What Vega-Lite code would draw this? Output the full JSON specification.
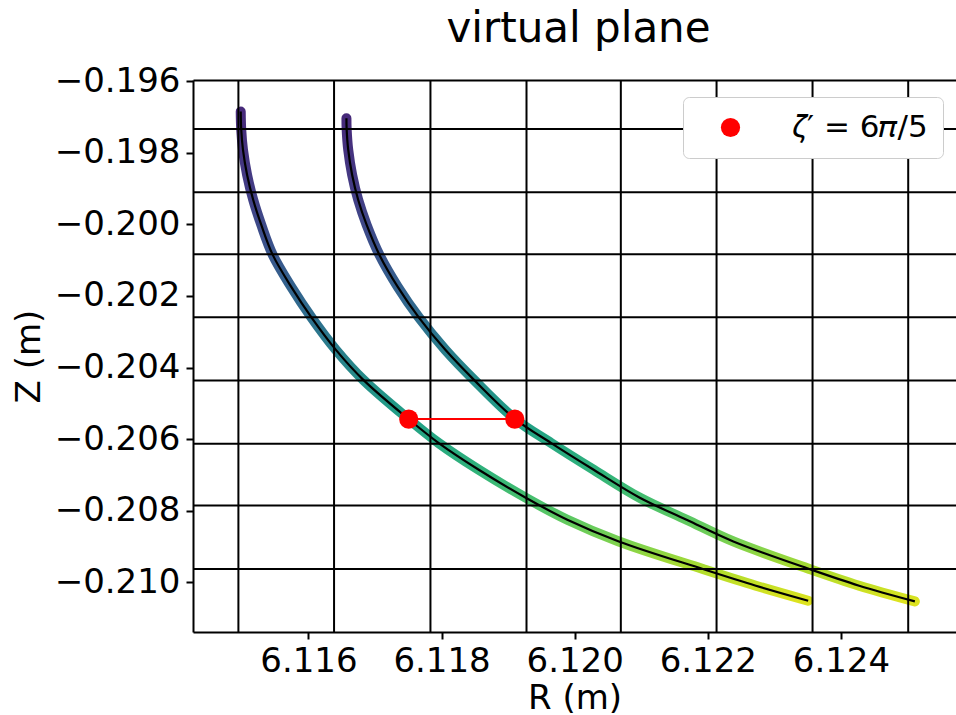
{
  "$schema": "https://vega.github.io/schema/vega-lite/v6.json",
  "width": 763,
  "height": 552,
  "autosize": {"type": "none"},
  "padding": {"left": 193, "top": 80, "right": 0, "bottom": 83},
  "title": {"text": "virtual plane", "fontSize": 42, "font": "DejaVu Sans", "fontWeight": "normal", "color": "black", "offset": 13, "dx": 4},
  "config": {
    "view": {"stroke": null},
    "font": "DejaVu Sans",
    "axis": {
      "labelFont": "DejaVu Sans", "titleFont": "DejaVu Sans",
      "labelFontSize": 34, "titleFontSize": 34, "titleFontWeight": "normal",
      "labelColor": "black", "titleColor": "black",
      "tickColor": "black", "domainColor": "black",
      "tickSize": 7, "tickWidth": 2, "domainWidth": 2,
      "grid": false, "labelOverlap": false, "labelFlush": false
    }
  },
  "datasets": {
    "curves": [
      {"curve": "a", "i": 1, "R": 6.114983, "Z": -0.196851},
      {"curve": "a", "i": 2, "R": 6.114990, "Z": -0.197339},
      {"curve": "a", "i": 3, "R": 6.115017, "Z": -0.197925},
      {"curve": "a", "i": 4, "R": 6.115079, "Z": -0.198623},
      {"curve": "a", "i": 5, "R": 6.115171, "Z": -0.199321},
      {"curve": "a", "i": 6, "R": 6.115292, "Z": -0.200018},
      {"curve": "a", "i": 7, "R": 6.115464, "Z": -0.200855},
      {"curve": "a", "i": 8, "R": 6.115742, "Z": -0.201748},
      {"curve": "a", "i": 9, "R": 6.116050, "Z": -0.202613},
      {"curve": "a", "i": 10, "R": 6.116413, "Z": -0.203506},
      {"curve": "a", "i": 11, "R": 6.116825, "Z": -0.204344},
      {"curve": "a", "i": 12, "R": 6.117505, "Z": -0.205440},
      {"curve": "a", "i": 13, "R": 6.117958, "Z": -0.206110},
      {"curve": "a", "i": 14, "R": 6.118559, "Z": -0.206855},
      {"curve": "a", "i": 15, "R": 6.119265, "Z": -0.207636},
      {"curve": "a", "i": 16, "R": 6.119889, "Z": -0.208250},
      {"curve": "a", "i": 17, "R": 6.120663, "Z": -0.208856},
      {"curve": "a", "i": 18, "R": 6.121925, "Z": -0.209626},
      {"curve": "a", "i": 19, "R": 6.122721, "Z": -0.210092},
      {"curve": "a", "i": 20, "R": 6.123507, "Z": -0.210511},
      {"curve": "b", "i": 1, "R": 6.116571, "Z": -0.197041},
      {"curve": "b", "i": 2, "R": 6.116574, "Z": -0.197339},
      {"curve": "b", "i": 3, "R": 6.116598, "Z": -0.197925},
      {"curve": "b", "i": 4, "R": 6.116657, "Z": -0.198623},
      {"curve": "b", "i": 5, "R": 6.116748, "Z": -0.199321},
      {"curve": "b", "i": 6, "R": 6.116875, "Z": -0.200018},
      {"curve": "b", "i": 7, "R": 6.117067, "Z": -0.200855},
      {"curve": "b", "i": 8, "R": 6.117342, "Z": -0.201748},
      {"curve": "b", "i": 9, "R": 6.117663, "Z": -0.202613},
      {"curve": "b", "i": 10, "R": 6.118057, "Z": -0.203506},
      {"curve": "b", "i": 11, "R": 6.118487, "Z": -0.204344},
      {"curve": "b", "i": 12, "R": 6.119107, "Z": -0.205440},
      {"curve": "b", "i": 13, "R": 6.119648, "Z": -0.206110},
      {"curve": "b", "i": 14, "R": 6.120285, "Z": -0.206855},
      {"curve": "b", "i": 15, "R": 6.120978, "Z": -0.207636},
      {"curve": "b", "i": 16, "R": 6.121680, "Z": -0.208250},
      {"curve": "b", "i": 17, "R": 6.122383, "Z": -0.208856},
      {"curve": "b", "i": 18, "R": 6.123525, "Z": -0.209626},
      {"curve": "b", "i": 19, "R": 6.124273, "Z": -0.210092},
      {"curve": "b", "i": 20, "R": 6.125110, "Z": -0.210530}
    ],
    "vgrid": [
      {"R": 6.114948}, {"R": 6.116385}, {"R": 6.117833}, {"R": 6.119276},
      {"R": 6.120693}, {"R": 6.122131}, {"R": 6.123573}, {"R": 6.125010}
    ],
    "hgrid": [
      {"Z": -0.197339}, {"Z": -0.199106}, {"Z": -0.200836}, {"Z": -0.202594},
      {"Z": -0.204363}, {"Z": -0.206129}, {"Z": -0.207851}, {"Z": -0.209626}
    ],
    "red": [
      {"R": 6.117507, "Z": -0.205440, "name": "𝜁′ = 6𝜋/5"},
      {"R": 6.119100, "Z": -0.205440, "name": "𝜁′ = 6𝜋/5"}
    ]
  },
  "layer": [
    {
      "data": {"name": "curves"},
      "mark": {"type": "line", "strokeWidth": 10, "strokeCap": "round", "strokeJoin": "round", "interpolate": "catmull-rom",
        "stroke": {"gradient": "linear", "x1": 0, "y1": 0, "x2": 0, "y2": 1, "stops": [
          {"offset": 0, "color": "#472a7a"},
          {"offset": 0.164, "color": "#433e85"},
          {"offset": 0.293, "color": "#39568c"},
          {"offset": 0.422, "color": "#2e6f8e"},
          {"offset": 0.628, "color": "#21a086"},
          {"offset": 0.732, "color": "#30b27b"},
          {"offset": 0.806, "color": "#4ec36b"},
          {"offset": 0.878, "color": "#7ad151"},
          {"offset": 0.937, "color": "#b0dd2e"},
          {"offset": 1, "color": "#dde31f"}
        ]}},
      "encoding": {
        "x": {"field": "R", "type": "quantitative", "scale": {"domain": [6.114266, 6.125728], "nice": false, "zero": false}, "axis": null},
        "y": {"field": "Z", "type": "quantitative", "scale": {"domain": [-0.211384, -0.195972], "nice": false, "zero": false}, "axis": null},
        "detail": {"field": "curve"},
        "order": {"field": "i", "type": "quantitative"}
      }
    },
    {
      "data": {"name": "vgrid"},
      "mark": {"type": "rule", "color": "black", "strokeWidth": 2},
      "encoding": {
        "x": {"field": "R", "type": "quantitative", "scale": {"domain": [6.114266, 6.125728], "nice": false, "zero": false},
          "axis": {"orient": "bottom", "values": [6.116, 6.118, 6.120, 6.122, 6.124], "format": ".3f", "title": "R (m)", "labelPadding": 5, "titlePadding": 3}}
      }
    },
    {
      "data": {"name": "hgrid"},
      "mark": {"type": "rule", "color": "black", "strokeWidth": 2},
      "encoding": {
        "y": {"field": "Z", "type": "quantitative", "scale": {"domain": [-0.211384, -0.195972], "nice": false, "zero": false},
          "axis": {"orient": "left", "values": [-0.196, -0.198, -0.2, -0.202, -0.204, -0.206, -0.208, -0.21], "format": ".3f", "title": "Z (m)", "labelPadding": 6, "titlePadding": 8}}
      }
    },
    {
      "data": {"name": "curves"},
      "mark": {"type": "line", "strokeWidth": 2.2, "color": "black", "interpolate": "catmull-rom"},
      "encoding": {
        "x": {"field": "R", "type": "quantitative", "scale": {"domain": [6.114266, 6.125728], "nice": false, "zero": false},
          "axis": {"orient": "top", "labels": false, "ticks": false, "title": null, "domain": true}},
        "y": {"field": "Z", "type": "quantitative", "axis": null},
        "detail": {"field": "curve"},
        "order": {"field": "i", "type": "quantitative"}
      }
    },
    {
      "data": {"name": "red"},
      "mark": {"type": "line", "color": "#ff0000", "strokeWidth": 2},
      "encoding": {
        "x": {"field": "R", "type": "quantitative", "axis": null},
        "y": {"field": "Z", "type": "quantitative", "axis": null}
      }
    },
    {
      "data": {"name": "red"},
      "mark": {"type": "point", "filled": true, "shape": "circle", "size": 370, "opacity": 1},
      "encoding": {
        "x": {"field": "R", "type": "quantitative", "axis": null},
        "y": {"field": "Z", "type": "quantitative", "axis": null},
        "color": {"field": "name", "type": "nominal", "scale": {"range": ["#ff0000"]},
          "legend": {"orient": "none", "legendX": 490, "legendY": 17, "title": null,
            "fillColor": "white", "strokeColor": "#cccccc", "cornerRadius": 6, "padding": 15,
            "symbolSize": 370, "symbolType": "circle", "symbolOpacity": 1, "symbolOffset": 17,
            "labelFont": "DejaVu Sans", "labelFontSize": 31, "labelColor": "black", "labelOffset": 47, "labelLimit": 400}}
      }
    }
  ],
  "resolve": {"axis": {"x": "independent", "y": "independent"}}
}
